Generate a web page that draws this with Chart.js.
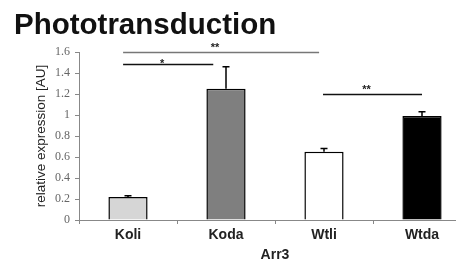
<!DOCTYPE html>
<html><head><meta charset="utf-8">
<script src="https://cdn.jsdelivr.net/npm/chart.js@4"></script>
<style>html,body{margin:0;padding:0;background:#fff;overflow:hidden;}#wrap{width:456px;height:276px;overflow:hidden;}</style>
</head><body><div id="wrap"><canvas id="c" width="471" height="276"></canvas></div>
<script>
const titleText = "Phototransduction";
const categories = ["Koli", "Koda", "Wtli", "Wtda"];
const values = [0.22, 1.25, 0.65, 0.99];
const errors = [0.01, 0.21, 0.03, 0.04];
const barColors = ["#d6d6d6", "#7f7f7f", "#ffffff", "#000000"];
const yTicks = [0, 0.2, 0.4, 0.6, 0.8, 1, 1.2, 1.4, 1.6];
const xTitle = "Arr3";
const yTitle = "relative expression [AU]";
// significance brackets
const sigFrom = [-0.05, -0.05, 1.99];
const sigTo = [1.95, 0.87, 3.0];
const sigY = [1.6, 1.485, 1.2];
const sigLabel = ["**", "*", "**"];
const sigColor = ["#777777", "#111111", "#111111"];

const overlay = {
  id: 'overlay',
  afterDatasetsDraw(chart) {
    const ctx = chart.ctx, x = chart.scales.x, y = chart.scales.y;
    ctx.save();
    ctx.strokeStyle = '#000'; ctx.lineWidth = 1.5;
    values.forEach((v, i) => {
      const px = x.getPixelForValue(i);
      const y0 = y.getPixelForValue(v), y1 = y.getPixelForValue(v + errors[i]);
      ctx.beginPath(); ctx.moveTo(px, y0); ctx.lineTo(px, y1);
      ctx.moveTo(px - 3.5, y1); ctx.lineTo(px + 3.5, y1); ctx.stroke();
    });
    const step = x.getPixelForValue(1) - x.getPixelForValue(0);
    sigFrom.forEach((f, i) => {
      const x0 = x.getPixelForValue(0) + f * step;
      const x1 = x.getPixelForValue(0) + sigTo[i] * step;
      const py = Math.round(y.getPixelForValue(sigY[i])) + 0.5;
      ctx.strokeStyle = sigColor[i]; ctx.lineWidth = 1.3;
      ctx.beginPath(); ctx.moveTo(x0, py); ctx.lineTo(x1, py); ctx.stroke();
      ctx.fillStyle = '#222'; ctx.font = 'bold 11px Arial, "Liberation Sans"';
      ctx.textAlign = 'center'; ctx.textBaseline = 'alphabetic';
      ctx.fillText(sigLabel[i], (x0 + x1) / 2 - 6, py + (sigLabel[i] === '*' ? 2 : -2));
    });
    ctx.fillStyle = '#111'; ctx.font = 'bold 29.5px Arial, "Liberation Sans"';
    ctx.textAlign = 'left'; ctx.textBaseline = 'alphabetic';
    ctx.fillText(titleText, 14, 34);
    ctx.restore();
  }
};

new Chart(document.getElementById('c'), {
  type: 'bar',
  data: {
    labels: categories,
    datasets: [{
      data: values,
      backgroundColor: barColors,
      borderColor: '#000',
      borderWidth: 1.5,
      borderSkipped: 'bottom',
      barPercentage: 0.4,
      categoryPercentage: 1.0
    }]
  },
  options: {
    responsive: false,
    animation: false,
    devicePixelRatio: 1,
    layout: { padding: { left: 0, right: 0, top: 52, bottom: 0 } },
    plugins: { legend: { display: false }, tooltip: { enabled: false }, title: { display: false } },
    scales: {
      x: {
        offset: true,
        grid: { display: true, drawOnChartArea: false, offset: true, tickLength: 4, color: '#888', lineWidth: 1 },
        border: { display: true, color: '#888', width: 1 },
        ticks: { color: '#222', font: { family: 'Arial, "Liberation Sans"', size: 14, weight: 'bold' }, padding: 3 },
        title: { display: true, text: xTitle, color: '#222', font: { family: 'Arial, "Liberation Sans"', size: 14, weight: 'bold' }, padding: { top: 3, bottom: 12 } },
        afterFit(s) { s.height = 56; }
      },
      y: {
        min: 0, max: 1.6,
        afterBuildTicks(s) { s.ticks = yTicks.map(v => ({ value: v })); },
        grid: { display: true, drawOnChartArea: false, tickLength: 4, color: '#888' },
        border: { display: true, color: '#888', width: 1 },
        ticks: { color: '#666', font: { family: '"Liberation Serif", "DejaVu Serif", serif', size: 12 }, padding: 5,
                 callback: v => String(v) },
        title: { display: true, text: yTitle, color: '#222', font: { family: 'Arial, "Liberation Sans"', size: 13.5 }, padding: { top: 33, bottom: 0 } },
        afterFit(s) { s.width = 79; }
      }
    }
  },
  plugins: [overlay]
});
</script></body></html>
